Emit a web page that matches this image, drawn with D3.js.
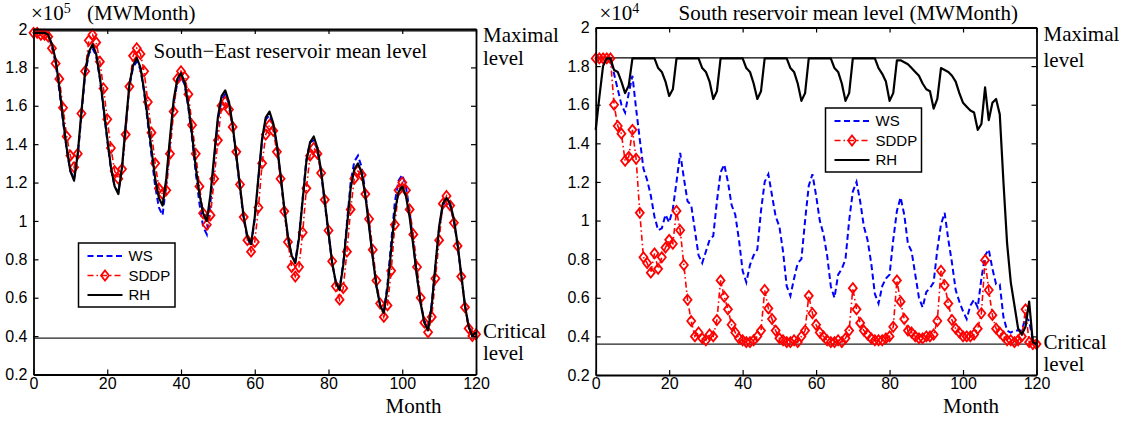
<!DOCTYPE html>
<html><head><meta charset="utf-8">
<script src="https://cdn.jsdelivr.net/npm/d3@7/dist/d3.min.js"></script>
<style>
html,body{margin:0;padding:0;background:#fff;}
svg{display:block;}
.tick text{font-family:"Liberation Sans",Arial,sans-serif;font-size:16px;fill:#000;}
.serif{font-family:"Liberation Serif","Times New Roman",serif;font-size:21px;fill:#000;}
.leg{font-family:"Liberation Sans",Arial,sans-serif;font-size:15px;fill:#000;}
</style></head>
<body>
<script>
// ---------- data ----------
const months = d3.range(0, 121);
const xTicks = [0, 20, 40, 60, 80, 100, 120];
const xTickLabels = ["0", "20", "40", "60", "80", "100", "120"];
const yTicks = [0.2, 0.4, 0.6, 0.8, 1.0, 1.2, 1.4, 1.6, 1.8, 2.0];
const yTickLabels = ["0.2", "0.4", "0.6", "0.8", "1", "1.2", "1.4", "1.6", "1.8", "2"];
const seriesNames = ["WS", "SDDP", "RH"];

// South-East (x 10^5 MWMonth)
const seMaximal = 1.99;
const seCritical = 0.39;
const seRH = [1.98,1.98,1.98,1.98,1.97,1.92,1.84,1.70,1.53,1.38,1.26,1.21,1.35,1.57,1.78,1.88,1.92,1.87,1.75,1.59,1.43,1.28,1.18,1.14,1.28,1.50,1.71,1.81,1.85,1.80,1.68,1.53,1.37,1.22,1.12,1.08,1.22,1.43,1.63,1.74,1.77,1.72,1.60,1.45,1.28,1.14,1.04,1.00,1.14,1.34,1.54,1.65,1.68,1.62,1.50,1.34,1.18,1.02,0.92,0.88,1.02,1.23,1.43,1.54,1.57,1.51,1.40,1.24,1.07,0.92,0.82,0.78,0.91,1.11,1.31,1.41,1.44,1.38,1.26,1.10,0.94,0.78,0.68,0.64,0.77,0.97,1.17,1.27,1.30,1.25,1.13,0.97,0.81,0.66,0.56,0.52,0.65,0.85,1.05,1.15,1.18,1.13,1.02,0.87,0.71,0.57,0.47,0.43,0.56,0.77,0.97,1.09,1.12,1.09,1.01,0.88,0.72,0.56,0.45,0.40,0.42];
const seWS = [1.98,1.98,1.98,1.98,1.97,1.91,1.82,1.68,1.52,1.37,1.26,1.22,1.34,1.55,1.76,1.87,1.90,1.86,1.74,1.58,1.42,1.27,1.18,1.15,1.27,1.49,1.70,1.80,1.83,1.79,1.67,1.51,1.34,1.18,1.07,1.03,1.19,1.41,1.61,1.72,1.75,1.71,1.59,1.43,1.25,1.09,0.97,0.93,1.10,1.32,1.52,1.63,1.66,1.61,1.49,1.33,1.17,1.01,0.91,0.87,1.01,1.22,1.42,1.53,1.55,1.50,1.39,1.23,1.06,0.91,0.82,0.79,0.92,1.12,1.32,1.41,1.42,1.37,1.25,1.09,0.93,0.78,0.68,0.65,0.78,0.99,1.20,1.31,1.34,1.28,1.15,0.98,0.81,0.66,0.56,0.53,0.67,0.89,1.10,1.21,1.24,1.18,1.05,0.88,0.71,0.57,0.48,0.45,0.57,0.77,0.96,1.08,1.11,1.08,1.00,0.87,0.72,0.56,0.45,0.41,0.42];
const seSDDP = [1.98,1.98,1.97,1.97,1.96,1.90,1.82,1.74,1.59,1.44,1.34,1.28,1.35,1.56,1.78,1.94,1.97,1.93,1.83,1.69,1.53,1.38,1.26,1.22,1.27,1.45,1.70,1.86,1.90,1.87,1.78,1.62,1.46,1.30,1.17,1.14,1.16,1.35,1.57,1.74,1.78,1.75,1.66,1.50,1.35,1.18,1.04,0.98,1.03,1.22,1.42,1.60,1.62,1.58,1.49,1.36,1.19,1.02,0.90,0.84,0.89,1.07,1.30,1.45,1.50,1.47,1.36,1.22,1.05,0.89,0.76,0.71,0.76,0.94,1.17,1.34,1.38,1.35,1.25,1.11,0.95,0.79,0.66,0.59,0.65,0.84,1.06,1.22,1.26,1.24,1.14,1.01,0.85,0.69,0.57,0.50,0.56,0.74,0.98,1.16,1.20,1.16,1.06,0.93,0.76,0.60,0.47,0.42,0.50,0.70,0.90,1.09,1.13,1.08,0.99,0.87,0.71,0.55,0.44,0.40,0.41];

// South (x 10^4 MWMonth)
const sMaximal = 1.843;
const sCritical = 0.36;
const sRH = [1.47,1.64,1.80,1.84,1.84,1.78,1.77,1.72,1.66,1.70,1.84,1.84,1.84,1.84,1.84,1.84,1.84,1.79,1.77,1.72,1.645,1.68,1.84,1.84,1.84,1.84,1.84,1.84,1.84,1.79,1.77,1.72,1.63,1.67,1.84,1.84,1.84,1.84,1.84,1.84,1.84,1.79,1.77,1.71,1.63,1.67,1.84,1.84,1.84,1.84,1.84,1.84,1.84,1.79,1.77,1.71,1.62,1.66,1.84,1.84,1.84,1.84,1.84,1.84,1.84,1.79,1.77,1.71,1.62,1.66,1.84,1.84,1.84,1.84,1.84,1.84,1.84,1.79,1.76,1.72,1.62,1.66,1.83,1.83,1.82,1.81,1.79,1.77,1.75,1.71,1.68,1.67,1.58,1.63,1.79,1.78,1.77,1.75,1.72,1.66,1.61,1.59,1.57,1.56,1.47,1.50,1.69,1.52,1.61,1.63,1.55,1.20,0.88,0.68,0.56,0.44,0.41,0.45,0.58,0.37,0.36];
const sWS = [1.84,1.84,1.84,1.84,1.84,1.76,1.68,1.60,1.56,1.66,1.75,1.58,1.42,1.27,1.21,1.13,1.02,0.95,0.96,1.03,0.99,1.06,1.20,1.35,1.22,1.10,1.08,0.95,0.82,0.78,0.84,0.90,0.92,1.10,1.25,1.29,1.20,1.08,1.03,0.90,0.74,0.68,0.77,0.82,0.85,1.05,1.20,1.24,1.13,1.02,0.97,0.84,0.66,0.61,0.70,0.78,0.80,1.00,1.18,1.24,1.13,1.00,0.93,0.82,0.66,0.60,0.72,0.75,0.80,1.00,1.15,1.20,1.10,0.97,0.90,0.78,0.62,0.57,0.66,0.70,0.72,0.90,1.05,1.12,1.03,0.88,0.84,0.72,0.60,0.55,0.63,0.65,0.68,0.85,0.98,1.04,0.90,0.78,0.64,0.58,0.53,0.49,0.56,0.59,0.55,0.70,0.82,0.85,0.75,0.67,0.67,0.50,0.43,0.42,0.43,0.43,0.43,0.50,0.48,0.38,0.36];
const sSDDP = [1.84,1.84,1.84,1.84,1.84,1.60,1.49,1.45,1.31,1.33,1.47,1.32,1.04,0.81,0.78,0.73,0.83,0.75,0.81,0.86,0.90,0.88,1.05,0.95,0.77,0.59,0.48,0.40,0.42,0.39,0.38,0.41,0.40,0.485,0.69,0.605,0.54,0.46,0.42,0.39,0.38,0.37,0.37,0.38,0.40,0.43,0.64,0.545,0.49,0.43,0.39,0.38,0.37,0.37,0.38,0.37,0.40,0.43,0.61,0.52,0.46,0.42,0.40,0.38,0.37,0.37,0.38,0.37,0.39,0.43,0.65,0.54,0.47,0.43,0.41,0.39,0.38,0.38,0.38,0.39,0.40,0.45,0.69,0.58,0.49,0.43,0.42,0.40,0.39,0.39,0.40,0.40,0.41,0.48,0.74,0.665,0.57,0.485,0.44,0.42,0.40,0.40,0.40,0.41,0.44,0.52,0.795,0.64,0.51,0.44,0.42,0.40,0.38,0.38,0.37,0.38,0.40,0.54,0.37,0.36,0.36];

// ---------- drawing ----------
const W = 1121, H = 423;
const svg = d3.select("body").append("svg").attr("width", W).attr("height", H);

const colors = {WS: "#0000ff", SDDP: "#ff0000", RH: "#000000"};
const diamond = "M0,-5L4,0L0,5L-4,0Z";

function panel(cfg) {
  const x = d3.scaleLinear().domain([0, 120]).range([cfg.x0, cfg.x1]);
  const y = d3.scaleLinear().domain([0.2, 2]).range([cfg.y1, cfg.y0]);
  const g = svg.append("g");

  // reference levels
  g.append("line").attr("x1", cfg.x0).attr("x2", cfg.x1)
    .attr("y1", y(cfg.maximal)).attr("y2", y(cfg.maximal))
    .attr("stroke", "#000").attr("stroke-width", 1.2);
  g.append("line").attr("x1", cfg.x0).attr("x2", cfg.x1)
    .attr("y1", y(cfg.critical)).attr("y2", y(cfg.critical))
    .attr("stroke", "#222").attr("stroke-width", 1.2);

  const line = d3.line().x((d, i) => x(months[i])).y(d => y(d));

  // WS
  g.append("path").datum(cfg.ws).attr("d", line).attr("fill", "none")
    .attr("stroke", colors.WS).attr("stroke-width", 2).attr("stroke-dasharray", "6,3.5");
  // SDDP
  g.append("path").datum(cfg.sddp).attr("d", line).attr("fill", "none")
    .attr("stroke", colors.SDDP).attr("stroke-width", 1.6).attr("stroke-dasharray", "6,3,1.5,3");
  g.selectAll(null).data(cfg.sddp).enter().append("path")
    .attr("d", diamond)
    .attr("transform", (d, i) => `translate(${x(months[i])},${y(d)})`)
    .attr("fill", "none").attr("stroke", colors.SDDP).attr("stroke-width", 1.8);
  // RH
  g.append("path").datum(cfg.rh).attr("d", line).attr("fill", "none")
    .attr("stroke", colors.RH).attr("stroke-width", 2.2).attr("stroke-linejoin", "round");

  // axes (inner ticks, box)
  const ax = (gen, tx, ty, labels) => {
    const a = g.append("g").attr("transform", `translate(${tx},${ty})`).call(gen);
    a.select(".domain").attr("stroke", "#000").attr("stroke-width", 1.8);
    a.selectAll(".tick line").attr("stroke", "#000").attr("stroke-width", 1.2);
    if (!labels) a.selectAll(".tick text").remove();
    return a;
  };
  ax(d3.axisBottom(x).tickValues(xTicks).tickFormat((d, i) => xTickLabels[i])
      .tickSizeInner(-5).tickSizeOuter(0).tickPadding(3), 0, cfg.y1, true);
  ax(d3.axisTop(x).tickValues(xTicks).tickSizeInner(-5).tickSizeOuter(0), 0, cfg.y0, false);
  ax(d3.axisLeft(y).tickValues(yTicks).tickFormat((d, i) => yTickLabels[i])
      .tickSizeInner(-5).tickSizeOuter(0).tickPadding(6), cfg.x0, 0, true);
  ax(d3.axisRight(y).tickValues(yTicks).tickSizeInner(-5).tickSizeOuter(0), cfg.x1, 0, false);

  // legend
  const L = cfg.legend;
  const lg = g.append("g").attr("transform", `translate(${L.x},${L.y})`);
  lg.append("rect").attr("width", L.w).attr("height", L.h)
    .attr("fill", "#fff").attr("stroke", "#000").attr("stroke-width", 1.5);
  seriesNames.forEach((name, k) => {
    const cy = 13 + k * 19.5;
    const ln = lg.append("line").attr("x1", 9).attr("x2", 44).attr("y1", cy).attr("y2", cy)
      .attr("stroke", colors[name]);
    if (name === "WS") ln.attr("stroke-width", 2).attr("stroke-dasharray", "6,3.5");
    if (name === "SDDP") {
      ln.attr("stroke-width", 1.6).attr("stroke-dasharray", "6,3,1.5,3");
      lg.append("path").attr("d", diamond).attr("transform", `translate(26.5,${cy})`)
        .attr("fill", "none").attr("stroke", colors.SDDP).attr("stroke-width", 1.8);
    }
    if (name === "RH") ln.attr("stroke-width", 2.2);
    lg.append("text").attr("class", "leg").attr("x", 50).attr("y", cy).attr("dy", "0.36em").text(name);
  });

  // side labels
  const txt = (s, tx, ty) => g.append("text").attr("class", "serif").attr("x", tx).attr("y", ty).text(s);
  txt("Maximal", cfg.x1 + 7, cfg.maxY1);
  txt("level", cfg.x1 + 7, cfg.maxY2);
  txt("Critical", cfg.x1 + 7, cfg.critY1);
  txt("level", cfg.x1 + 7, cfg.critY2);
  txt("Month", cfg.monthX, 413);

  // exponent label
  const ex = g.append("text").attr("class", "serif").attr("x", cfg.expX).attr("y", 19.5);
  ex.append("tspan").text("×10");
  ex.append("tspan").attr("dy", -7).attr("font-size", "14px").text(cfg.exp);
  if (cfg.expUnit) ex.append("tspan").attr("x", cfg.expX + 56).attr("dy", 7).text(cfg.expUnit);

  if (cfg.title) g.append("text").attr("class", "serif").attr("x", cfg.title.x).attr("y", cfg.title.y).text(cfg.title.s);
}

panel({
  x0: 33.5, x1: 476, y0: 29, y1: 374.5,
  maximal: seMaximal, critical: seCritical,
  rh: seRH, ws: seWS, sddp: seSDDP,
  legend: {x: 78.5, y: 243, w: 96.5, h: 64},
  maxY1: 41.5, maxY2: 64.5, critY1: 338, critY2: 360,
  monthX: 385.5, expX: 31, exp: "5", expUnit: "(MWMonth)",
  title: {s: "South\u2212East reservoir mean level", x: 153.5, y: 57.5}
});

panel({
  x0: 595.7, x1: 1036.5, y0: 27.5, y1: 375,
  maximal: sMaximal, critical: sCritical,
  rh: sRH, ws: sWS, sddp: sSDDP,
  legend: {x: 825.5, y: 108, w: 96, h: 64},
  maxY1: 41, maxY2: 67, critY1: 348.5, critY2: 371,
  monthX: 943, expX: 599.5, exp: "4", expUnit: null,
  title: {s: "South reservoir mean level (MWMonth)", x: 678.5, y: 20}
});
</script>
</body></html>
